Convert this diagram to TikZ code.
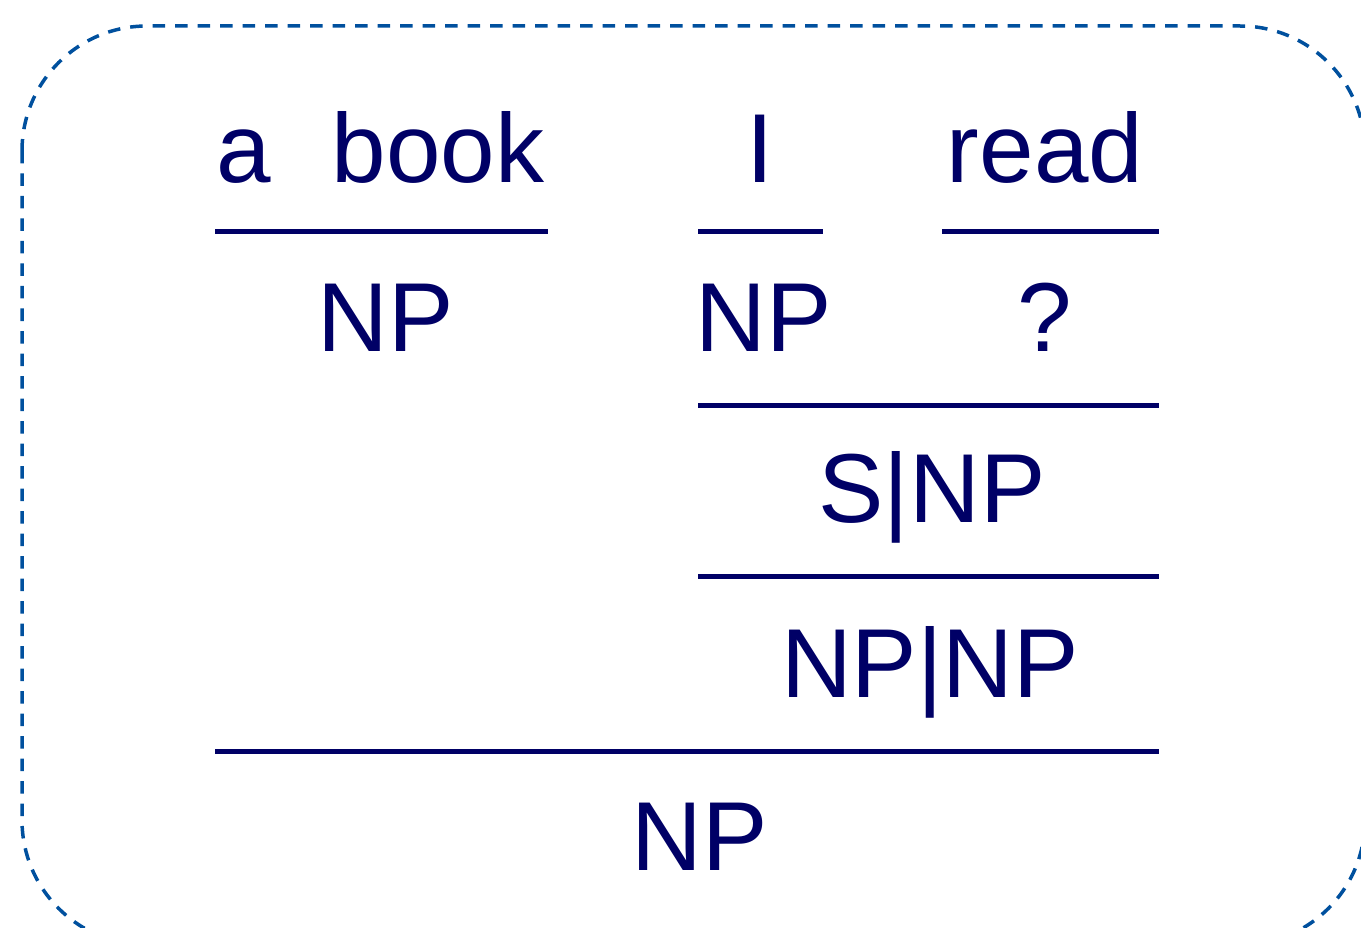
\documentclass[tikz,border=0pt]{standalone}
\usepackage{fontspec}
\setmainfont{Liberation Sans}
\definecolor{ink}{HTML}{000066}
\definecolor{frame}{HTML}{00509E}
\begin{document}
\begin{tikzpicture}[x=1pt,y=-1pt,
  word/.style={anchor=base,inner sep=0pt,text=ink,font=\fontsize{98}{100}\selectfont},
  rule/.style={draw=ink,line width=5pt},
  border/.style={draw=frame,line width=3.5pt,dash pattern=on 12.5pt off 10pt,rounded corners=125pt}]
\useasboundingbox (0,0) rectangle (1361,928);
% dashed frame
\path[border] (22,26) rectangle (1365,945);
% words
\node[word] (a) at (244,183) {a};
\node[word] (book) at (438,183) {book};
\node[word] (i) at (760,183) {I};
\node[word] (read) at (1045,183) {read};
% first row of categories
\node[word] (np1) at (386,352) {NP};
\node[word] (np2) at (764,352) {NP};
\node[word] (q) at (1045,352) {?};
% derived categories
\node[word] (snp) at (932,522) {S|NP};
\node[word] (npnp) at (930,697) {NP|NP};
\node[word] (np) at (700,870) {NP};
% derivation rules
\draw[rule] (215,232) -- (548,232);
\draw[rule] (698,232) -- (823,232);
\draw[rule] (942,232) -- (1159,232);
\draw[rule] (698,405) -- (1159,405);
\draw[rule] (698,576) -- (1159,576);
\draw[rule] (215,751) -- (1159,751);
\end{tikzpicture}
\end{document}
